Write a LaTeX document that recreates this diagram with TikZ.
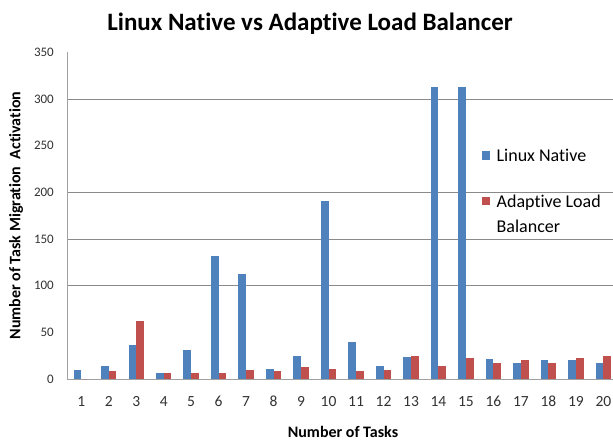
\documentclass[tikz,border=0pt]{standalone}
\usepackage{fontspec}
\setmainfont{Carlito}[Ligatures=NoCommon]
\usetikzlibrary{positioning}
\definecolor{nativeblue}{HTML}{4F81BD}
\definecolor{adaptred}{HTML}{C0504D}
\definecolor{gridgray}{HTML}{8A8A8A}
\begin{document}
\begin{tikzpicture}[x=1pt,y=1pt]
  \tikzset{ bl/.style={fill=nativeblue,draw=none},
    rd/.style={fill=adaptred,draw=none},
    ticklab/.style={inner sep=0pt,text=black!80,font=\fontsize{13}{13}\selectfont},
    axtitle/.style={inner sep=0pt,font=\bfseries\fontsize{16}{16}\selectfont},
    legsq/.style={minimum size=8.5pt,inner sep=0pt},
    legtext/.style={inner sep=0pt,align=left,font=\fontsize{18}{25}\selectfont},
  }
  \useasboundingbox (0,0) rectangle (613,441);
  \fill[white] (0,0) rectangle (613,441);
  % the title
  \node[inner sep=0pt,anchor=base,font=\bfseries\fontsize{25}{25}\selectfont] (title) at (310,410) {Linux Native vs Adaptive Load Balancer};
  % the plot area
  \begin{scope}[shift={(67.5,62)},x=27.48pt,y=0.9333pt]
    \foreach \g in {100,150,200,300}
      \draw[gridgray,line width=0.9pt] (0,\g) -- (19.85,\g);
    \draw[gridgray!80,line width=0.8pt] (0,350) -- (0,0) -- (19.85,0);
    % the bars
    \foreach \i/\b/\r in {1/10/0,2/14/9,3/36/62,4/6/6,5/31/6,6/132/6,7/112/10,8/11/9,9/25/13,10/191/11,
                          11/40/9,12/14/10,13/24/25,14/313/14,15/313/22,16/21/17,17/17/20,18/20/17,19/20/22,20/17/25}{
      \fill[bl] (\i-0.78,0) rectangle (\i-0.5,\b);
      \fill[rd] (\i-0.5,0) rectangle (\i-0.22,\r);
    }
    % the tick labels
    \foreach \v in {0,50,...,350}
      \node[ticklab,anchor=east] (y\v) at ([xshift=-13.5pt]0,\v) {\v};
    \foreach \i in {1,...,20}
      \node[ticklab,anchor=base,font=\fontsize{15.5}{15.5}\selectfont] (x\i) at ([yshift=-28pt]\i-0.5,0) {\i};
  \end{scope}
  % the axis titles
  \node[axtitle,anchor=base] (xtitle) at (343,3.5) {Number of Tasks};
  \node[axtitle,rotate=90] (ytitle) at (16,225.5) {Number of Task Migration\ \ Activation};
  % the legend
  \node[legsq,bl] (sqB) at (486,285.5) {};
  \node[legsq,rd] (sqR) at (486,240) {};
  \node[legtext,right=6pt of sqB] (txtB) {Linux Native};
  \node[legtext,anchor=north west] (txtR) at ([xshift=6pt,yshift=2pt]sqR.north east) {Adaptive Load\\Balancer};
\end{tikzpicture}
\end{document}
